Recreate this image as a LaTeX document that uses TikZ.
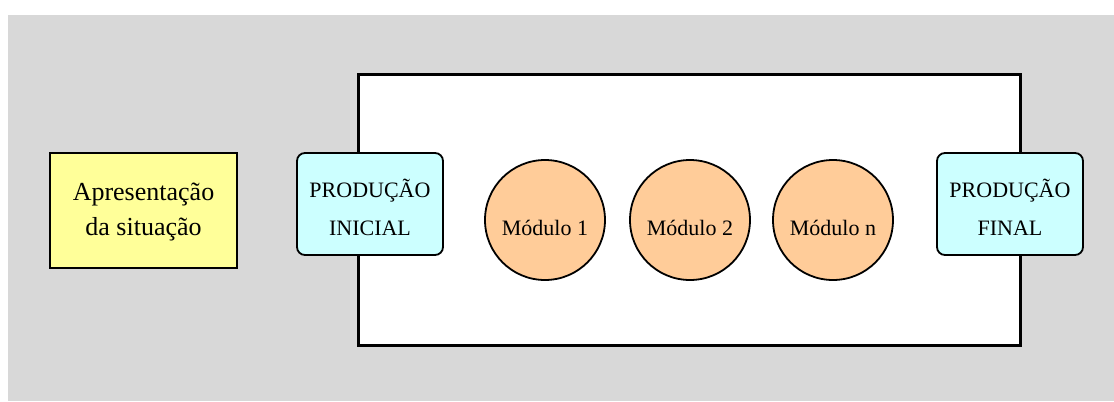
\documentclass[tikz,border=0pt]{standalone}
\usepackage{fontspec}
\setmainfont{Liberation Serif}
\definecolor{bggray}{HTML}{D8D8D8}
\definecolor{yel}{HTML}{FFFF99}
\definecolor{cyanbox}{HTML}{CCFFFF}
\definecolor{orangec}{HTML}{FFCC99}
\newcommand{\lowline}[2]{\raisebox{-#1}[0pt][0pt]{#2}}
\tikzset{
  situ/.style={draw=black, line width=1.8bp, fill=yel, minimum width=187bp, minimum height=115bp, inner sep=0pt, align=center, font=\fontsize{26bp}{35bp}\selectfont},
  prod/.style={draw=black, line width=1.8bp, fill=cyanbox, rounded corners=8bp, minimum width=146bp, minimum height=102bp, inner sep=0pt, align=center, font=\fontsize{22bp}{38bp}\selectfont},
  modc/.style={draw=black, line width=1.8bp, fill=orangec, circle, minimum size=120bp, inner sep=0pt, font=\fontsize{22bp}{24bp}\selectfont},
  frame/.style={draw=black, line width=3bp, fill=white}
}
\begin{document}
\begin{tikzpicture}[x=1bp,y=-1bp]
\useasboundingbox (0,0) rectangle (1114,401);
\fill[white] (0,0) rectangle (1114,401);
\fill[bggray] (8,15) rectangle (1114,401);
\draw[frame] (358,74) rectangle (1020,345);
\node[situ] (apres) at (143.5,210.5) {\lowline{7bp}{Apresentação}\\\lowline{7bp}{da situação}};
\node[prod] (pini) at (370,204) {\lowline{12bp}{PRODUÇÃO}\\\lowline{12bp}{INICIAL}};
\node[prod] (pfin) at (1010,204) {\lowline{12bp}{PRODUÇÃO}\\\lowline{12bp}{FINAL}};
\node[modc] (m1) at (545,220) {\lowline{15bp}{Módulo 1}};
\node[modc] (m2) at (690,220) {\lowline{15bp}{Módulo 2}};
\node[modc] (mn) at (833,220) {\lowline{15bp}{Módulo n}};
\end{tikzpicture}
\end{document}
